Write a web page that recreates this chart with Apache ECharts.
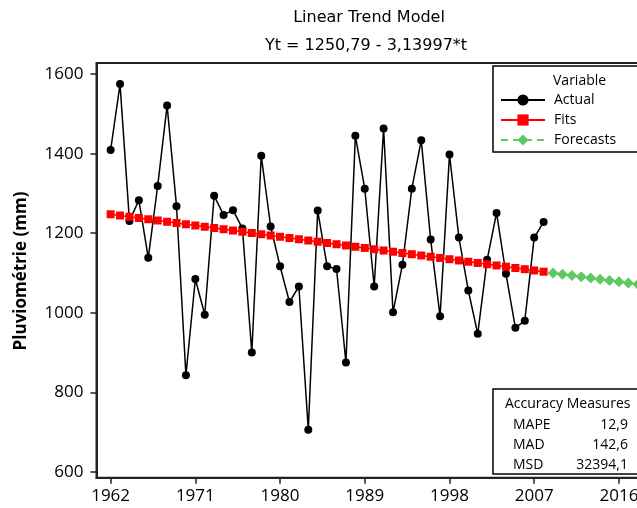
<!DOCTYPE html>
<html>
<head>
<meta charset="utf-8">
<script src="https://cdn.jsdelivr.net/npm/echarts@6/dist/echarts.min.js"></script>
<style>
html,body{margin:0;padding:0;background:#fff;}
#chart{width:637px;height:508px;}
</style>
</head>
<body>
<div id="chart"></div>
<script>
const years = [1962,1963,1964,1965,1966,1967,1968,1969,1970,1971,1972,1973,1974,1975,1976,1977,1978,1979,1980,1981,1982,1983,1984,1985,1986,1987,1988,1989,1990,1991,1992,1993,1994,1995,1996,1997,1998,1999,2000,2001,2002,2003,2004,2005,2006,2007,2008];
const actual = [1409,1575,1231,1283,1138,1319,1521,1268,843,1085,995,1294,1246,1258,1212,900,1395,1217,1117,1027,1066,706,1257,1117,1110,875,1445,1312,1066,1463,1001,1121,1312,1434,1184,991,1398,1189,1056,947,1133,1251,1098,962,980,1189,1228];
const fits = [1247.6,1244.5,1241.4,1238.2,1235.1,1232.0,1228.8,1225.7,1222.5,1219.4,1216.2,1213.1,1210.0,1206.8,1203.7,1200.6,1197.4,1194.3,1191.1,1188.0,1184.8,1181.7,1178.6,1175.4,1172.3,1169.2,1166.0,1162.9,1159.7,1156.6,1153.4,1150.3,1147.2,1144.0,1140.9,1137.8,1134.6,1131.5,1128.3,1125.2,1122.0,1118.9,1115.8,1112.6,1109.5,1106.4,1103.2];
const forecastYears = [2009,2010,2011,2012,2013,2014,2015,2016,2017,2018,2019,2020];
const forecasts = [1100.1,1096.9,1093.8,1090.6,1087.5,1084.4,1081.2,1078.1,1075.0,1071.8,1068.7,1065.5];
const xTicks = [1962,1971,1980,1989,1998,2007,2016];
const yTicks = [600,800,1000,1200,1400,1600];
const accuracyNames = ['MAPE','MAD','MSD'];
const accuracyValues = ['12,9','142,6','32394,1'];
const titleLines = ['Linear Trend Model','Yt = 1250,79 - 3,13997*t'];
const yTitle = 'Pluviométrie (mm)';

const FONT = 'Open Sans';
const TFONT = 'DejaVu Sans';
const chart = echarts.init(document.getElementById('chart'), null, {renderer:'canvas'});

const pair = (xs, ys) => xs.map((x,i)=>[x, ys[i]]);

const graphics = [
  {type:'text', x:369, y:18, style:{text:titleLines[0], font:'16px "'+TFONT+'"', fill:'#000', align:'center', verticalAlign:'middle'}},
  {type:'text', x:366, y:46, style:{text:titleLines[1], font:'16px "'+TFONT+'"', fill:'#000', align:'center', verticalAlign:'middle'}},
  {type:'text', x:21, y:271, rotation:Math.PI/2, style:{text:yTitle, font:'bold 17px "'+FONT+'"', fill:'#000', align:'center', verticalAlign:'middle'}},
  {type:'rect', shape:{x:493, y:66, width:200, height:86}, style:{fill:'#fff', stroke:'#000', lineWidth:1.5}, z:50},
  {type:'text', x:553, y:81, style:{text:'Variable', font:'14px "'+FONT+'"', fill:'#000', align:'left', verticalAlign:'middle'}, z:51},
  {type:'rect', shape:{x:493, y:389, width:200, height:85}, style:{fill:'#fff', stroke:'#000', lineWidth:1.5}, z:50},
  {type:'text', x:505, y:404, style:{text:'Accuracy Measures', font:'14px "'+FONT+'"', fill:'#000', align:'left', verticalAlign:'middle'}, z:51}
];
accuracyNames.forEach((n,i)=>{
  graphics.push({type:'text', x:513, y:425+i*20, style:{text:n, font:'14px "'+FONT+'"', fill:'#000', align:'left', verticalAlign:'middle'}, z:51});
  graphics.push({type:'text', x:628, y:425+i*20, style:{text:accuracyValues[i], font:'14px "'+FONT+'"', fill:'#000', align:'right', verticalAlign:'middle'}, z:51});
});

chart.setOption({
  animation:false,
  backgroundColor:'#fff',
  textStyle:{fontFamily:FONT},
  grid:{left:96.5, top:63, width:578.9, height:414.8, show:true, borderColor:'#222', borderWidth:2, backgroundColor:'transparent', outerBoundsMode:'none', containLabel:false},
  xAxis:{
    type:'value', min:1960.5, max:2022,
    splitLine:{show:false},
    axisLine:{onZero:false, lineStyle:{color:'#222', width:2}},
    axisTick:{customValues:xTicks, length:6, lineStyle:{color:'#222', width:1.5}},
    axisLabel:{customValues:xTicks, formatter:v=>String(v), fontSize:17, color:'#000', margin:10, fontFamily:FONT}
  },
  yAxis:{
    type:'value', min:585, max:1628,
    splitLine:{show:false},
    axisLine:{show:true, lineStyle:{color:'#222', width:2}},
    axisTick:{show:true, customValues:yTicks, length:6, lineStyle:{color:'#222', width:1.5}},
    axisLabel:{customValues:yTicks, formatter:v=>String(v), fontSize:17, color:'#000', margin:13, fontFamily:FONT}
  },
  legend:{
    orient:'vertical', left:500, top:93, padding:0, itemGap:6, itemWidth:44, itemHeight:14,
    z:60,
    data:['Actual','Fits','Forecasts'],
    textStyle:{fontSize:14, color:'#000', fontFamily:FONT, padding:[0,0,0,4]}
  },
  series:[
    {name:'Actual', type:'line', data:pair(years, actual), symbol:'circle', symbolSize:8, showAllSymbol:true,
     itemStyle:{color:'#000'}, lineStyle:{color:'#000', width:1.5}, z:2},
    {name:'Fits', type:'line', data:pair(years, fits), symbol:'rect', symbolSize:8, showAllSymbol:true,
     itemStyle:{color:'#ff0000'}, lineStyle:{color:'#ff0000', width:1.5}, z:3},
    {name:'Forecasts', type:'line', data:pair(forecastYears, forecasts), symbol:'diamond', symbolSize:11, showAllSymbol:true,
     itemStyle:{color:'#60c860'}, lineStyle:{color:'#60c860', width:1.5, type:[7,5]}, z:3}
  ],
  graphic:graphics
});
</script>
</body>
</html>
